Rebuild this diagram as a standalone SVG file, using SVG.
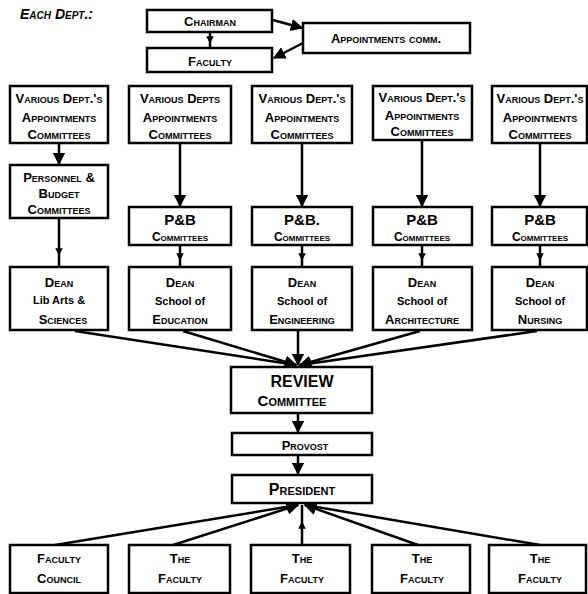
<svg xmlns="http://www.w3.org/2000/svg" width="588" height="594" viewBox="0 0 588 594">
<style>
.b{fill:#fff;stroke:#000;stroke-width:2.5}
.t{font-family:"Liberation Sans",Arial,sans-serif;font-weight:bold;font-variant:small-caps;font-size:13px;text-anchor:middle;fill:#000}
.s{font-family:"Liberation Sans",Arial,sans-serif;font-weight:bold;font-size:11px;text-anchor:middle;fill:#000}
.p{font-family:"Liberation Sans",Arial,sans-serif;font-weight:bold;font-size:15px;text-anchor:middle;fill:#000}
.l{fill:none;stroke:#000;stroke-width:2.5}
.a{marker-end:url(#ah)}
.m{marker-mid:url(#am)}
</style>
<defs>
<marker id="ah" viewBox="0 0 10 10" refX="9" refY="5" markerWidth="5" markerHeight="5" orient="auto" markerUnits="strokeWidth"><path d="M0,0 L10,5 L0,10 z" fill="#000"/></marker>
<marker id="am" viewBox="0 0 10 10" refX="5" refY="5" markerWidth="3" markerHeight="3" orient="auto" markerUnits="strokeWidth"><path d="M0,0 L10,5 L0,10 z" fill="#000"/></marker>
</defs>
<rect width="588" height="594" fill="#fff"/>
<text x="20" y="19" style="font-family:'Liberation Sans',Arial,sans-serif;font-weight:bold;font-style:italic;font-variant:small-caps;font-size:14px">Each Dept.:</text>
<g id="connectors">
<path class="l a" d="M273,20 L302,28"/>
<path class="l a" d="M303,43 L274,58"/>
<path class="l m" d="M210,33 L210,40 L210,47"/>
<path class="l a" d="M59,143 L59,164"/>
<path class="l a" d="M180,143 L180,206"/>
<path class="l a" d="M302,143 L302,206"/>
<path class="l a" d="M422,140 L422,206"/>
<path class="l a" d="M540,143 L540,206"/>
<path class="l m" d="M59,218 L59,252 L59,266"/>
<path class="l m" d="M180,245 L180,257 L180,266"/>
<path class="l m" d="M302,245 L302,257 L302,266"/>
<path class="l m" d="M422,245 L422,257 L422,266"/>
<path class="l m" d="M540,245 L540,257 L540,266"/>
<path class="l a" d="M75,331 L296,365"/>
<path class="l a" d="M183,331 L296,365"/>
<path class="l a" d="M298,331 L298,365"/>
<path class="l a" d="M420,331 L300,365"/>
<path class="l a" d="M537,331 L300,365"/>
<path class="l a" d="M298,413 L298,432"/>
<path class="l a" d="M298,455 L298,474"/>
<path class="l a" d="M55,545 L298,505"/>
<path class="l a" d="M173,545 L298,505"/>
<path class="l m" d="M302,545 L302,525 L302,505"/>
<path class="l a" d="M418,545 L305,505"/>
<path class="l a" d="M540,545 L305,505"/>
</g>
<g id="chairman"><rect class="b" x="147" y="10" width="125" height="22"/><text class="t" x="210" y="26">Chairman</text></g>
<g id="faculty"><rect class="b" x="147" y="48" width="125" height="24"/><text class="t" x="210" y="66">Faculty</text></g>
<g id="appointments"><rect class="b" x="303" y="23" width="167" height="30"/><text class="t" x="386" y="43">Appointments comm.</text></g>

<g id="various1"><rect class="b" x="10" y="86" width="98" height="57"/><text class="t" x="59" y="103">Various Dept.'s</text><text class="t" x="59" y="122">Appointments</text><text class="t" x="59" y="139">Committees</text></g>
<g id="various2"><rect class="b" x="129" y="86" width="102" height="57"/><text class="t" x="180" y="103">Various Depts</text><text class="t" x="180" y="122">Appointments</text><text class="t" x="180" y="139">Committees</text></g>
<g id="various3"><rect class="b" x="252" y="86" width="100" height="57"/><text class="t" x="302" y="103">Various Dept.'s</text><text class="t" x="302" y="122">Appointments</text><text class="t" x="302" y="139">Committees</text></g>
<g id="various4"><rect class="b" x="373" y="86" width="99" height="54"/><text class="t" x="422" y="102">Various Dept.'s</text><text class="t" x="422" y="120">Appointments</text><text class="t" x="422" y="136">Committees</text></g>
<g id="various5"><rect class="b" x="492" y="86" width="95" height="57"/><text class="t" x="540" y="103">Various Dept.'s</text><text class="t" x="540" y="122">Appointments</text><text class="t" x="540" y="139">Committees</text></g>

<g id="pb1"><rect class="b" x="10" y="165" width="98" height="53"/><text class="t" x="59" y="182">Personnel &amp;</text><text class="t" x="59" y="198">Budget</text><text class="t" x="59" y="214">Committees</text></g>
<g id="pb2"><rect class="b" x="129" y="207" width="102" height="38"/><text class="p" x="180" y="225">P&amp;B</text><text class="t" x="180" y="241" style="font-size:12px">Committees</text></g>
<g id="pb3"><rect class="b" x="252" y="207" width="100" height="38"/><text class="p" x="302" y="225">P&amp;B.</text><text class="t" x="302" y="241" style="font-size:12px">Committees</text></g>
<g id="pb4"><rect class="b" x="373" y="207" width="99" height="38"/><text class="p" x="422" y="225">P&amp;B</text><text class="t" x="422" y="241" style="font-size:12px">Committees</text></g>
<g id="pb5"><rect class="b" x="492" y="207" width="95" height="38"/><text class="p" x="540" y="225">P&amp;B</text><text class="t" x="540" y="241" style="font-size:12px">Committees</text></g>

<g id="dean1"><rect class="b" x="10" y="267" width="98" height="63"/><text class="t" x="59" y="287">Dean</text><text class="s" x="59" y="304">Lib Arts &amp;</text><text class="t" x="63" y="324">Sciences</text></g>
<g id="dean2"><rect class="b" x="129" y="267" width="102" height="63"/><text class="t" x="180" y="287">Dean</text><text class="s" x="180" y="305">School of</text><text class="t" x="180" y="324">Education</text></g>
<g id="dean3"><rect class="b" x="252" y="267" width="100" height="63"/><text class="t" x="302" y="287">Dean</text><text class="s" x="302" y="305">School of</text><text class="t" x="302" y="324">Engineering</text></g>
<g id="dean4"><rect class="b" x="373" y="267" width="99" height="63"/><text class="t" x="422" y="287">Dean</text><text class="s" x="422" y="305">School of</text><text class="t" x="422" y="324">Architecture</text></g>
<g id="dean5"><rect class="b" x="492" y="267" width="95" height="63"/><text class="t" x="540" y="287">Dean</text><text class="s" x="540" y="305">School of</text><text class="t" x="540" y="324">Nursing</text></g>

<g id="review"><rect class="b" x="231" y="367" width="141" height="46"/><text class="t" x="302" y="387" style="font-size:16px;font-variant:normal">REVIEW</text><text class="t" x="292" y="406" style="font-size:15px">Committee</text></g>
<g id="provost"><rect class="b" x="232" y="433" width="140" height="22"/><text class="t" x="305" y="450">Provost</text></g>
<g id="president"><rect class="b" x="232" y="475" width="140" height="28"/><text class="t" x="302" y="495" style="font-size:16px">President</text></g>

<g id="council"><rect class="b" x="10" y="545" width="98" height="48"/><text class="t" x="59" y="563">Faculty</text><text class="t" x="59" y="583">Council</text></g>
<g id="faculty2"><rect class="b" x="129" y="545" width="101" height="48"/><text class="t" x="180" y="563">The</text><text class="t" x="180" y="583">Faculty</text></g>
<g id="faculty3"><rect class="b" x="251" y="545" width="99" height="48"/><text class="t" x="302" y="563">The</text><text class="t" x="302" y="583">Faculty</text></g>
<g id="faculty4"><rect class="b" x="372" y="545" width="98" height="48"/><text class="t" x="422" y="563">The</text><text class="t" x="422" y="583">Faculty</text></g>
<g id="faculty5"><rect class="b" x="489" y="545" width="97" height="48"/><text class="t" x="540" y="563">The</text><text class="t" x="540" y="583">Faculty</text></g>
</svg>
